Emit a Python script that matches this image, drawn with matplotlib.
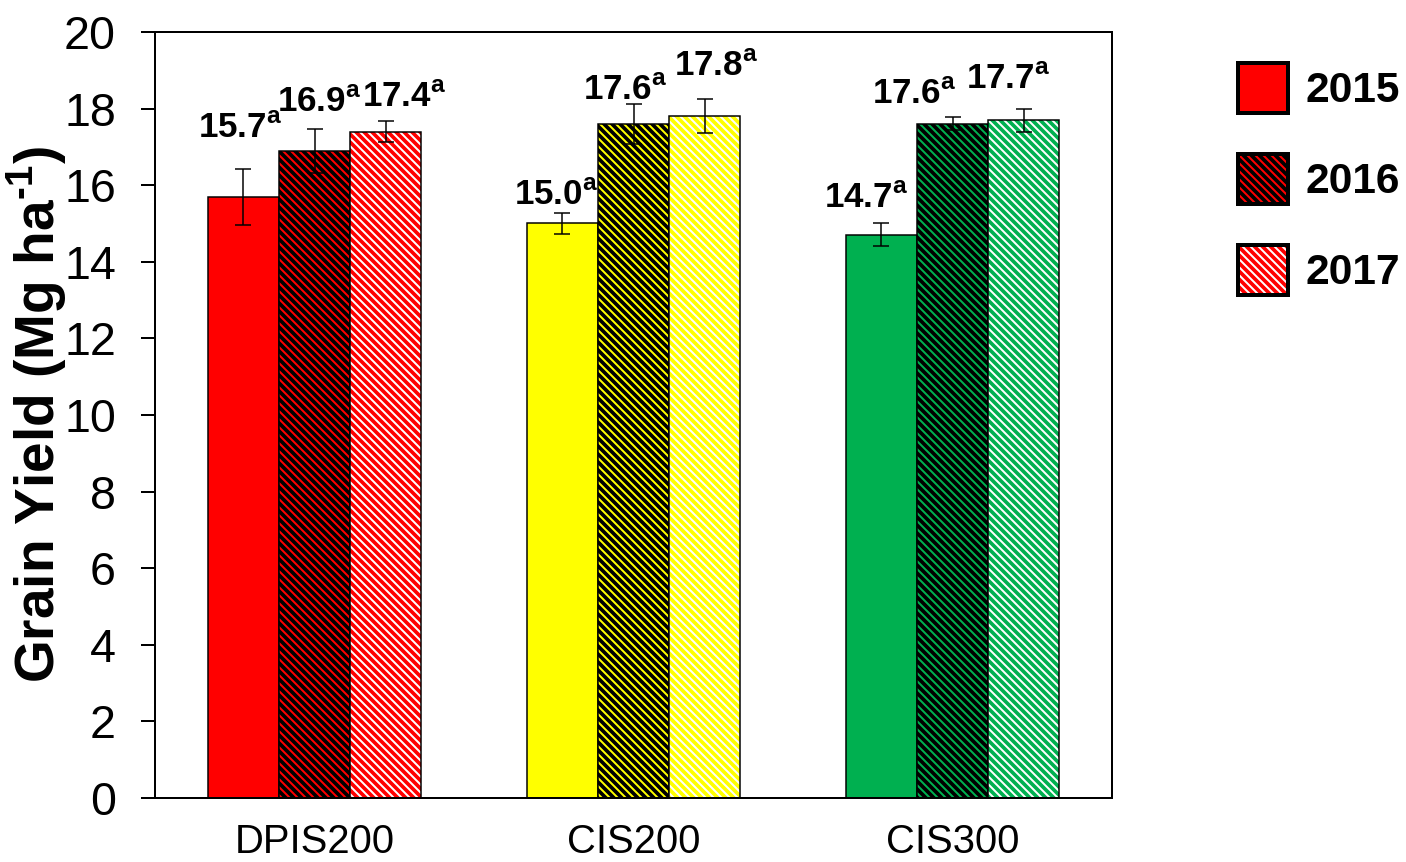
import matplotlib
matplotlib.use('Agg')
import matplotlib.pyplot as plt
from matplotlib.patches import Patch
from matplotlib.legend_handler import HandlerTuple
import numpy as np

# Fonts: Arial-like
plt.rcParams['font.family'] = 'Liberation Sans'
plt.rcParams['mathtext.fontset'] = 'custom'
plt.rcParams['mathtext.rm'] = 'Liberation Sans'
plt.rcParams['mathtext.bf'] = 'Liberation Sans:bold'
plt.rcParams['hatch.linewidth'] = 2.2

# Data
treatments = ['DPIS200', 'CIS200', 'CIS300']
years = ['2015', '2016', '2017']
yield_2015 = [15.7, 15.0, 14.7]
yield_2016 = [16.9, 17.6, 17.6]
yield_2017 = [17.4, 17.8, 17.7]
err_2015 = [0.73, 0.27, 0.30]
err_2016 = [0.57, 0.53, 0.17]
err_2017 = [0.28, 0.44, 0.30]
letters_2015 = ['a', 'a', 'a']
letters_2016 = ['a', 'a', 'a']
letters_2017 = ['a', 'a', 'a']

base_colors = ['#FF0000', '#FFFF00', '#00B050']

# label nudges in pixels (dx, dy above error bar top), one per bar
label_shift = [[(-3, 31), (-6, 8), (-15, 15)],
               [(5, 17), (-8, 4), (-38, 13)],
               [(19, 14), (12, 23), (-15, 20)]]

values = [yield_2015, yield_2016, yield_2017]
errors = [err_2015, err_2016, err_2017]
letters = [letters_2015, letters_2016, letters_2017]

fig = plt.figure(figsize=(1406 / 120, 862 / 120), dpi=120)
ax = fig.add_axes([155 / 1406, 64 / 862, 957 / 1406, 766 / 862])

x = np.arange(len(treatments))
w = 0.2226
hatch = '\\' * 5

for j in range(3):
    xs = x + (j - 1) * w
    for i in range(3):
        c = base_colors[i]
        if j == 0:
            ax.bar(xs[i], values[j][i], w, color=c, linewidth=0)
        elif j == 1:
            ax.bar(xs[i], values[j][i], w, facecolor=c, edgecolor='black',
                   hatch=hatch, linewidth=0)
        else:
            ax.bar(xs[i], values[j][i], w, facecolor='white', edgecolor=c,
                   hatch=hatch, linewidth=0)
    # outlines
    ax.bar(xs, values[j], w, fill=False, edgecolor='black', linewidth=0.9)
    ax.errorbar(xs, values[j], yerr=errors[j], fmt='none', ecolor='black',
                elinewidth=0.9, capsize=5, capthick=0.9)
    for i in range(3):
        dx, dy = label_shift[j][i]
        ax.annotate(f'{values[j][i]:.1f}' + r'$^{\mathbf{' + letters[j][i] + '}}$',
                    (xs[i], values[j][i] + errors[j][i]), xytext=(dx, dy),
                    textcoords='offset pixels', ha='center', va='baseline',
                    fontsize=21, fontweight='bold')

ax.set_xlim(-0.5, 2.5)
ax.set_ylim(0, 20)
ax.set_yticks(range(0, 21, 2))
ax.set_xticks(x)
ax.set_xticklabels(treatments)
ax.tick_params(axis='y', direction='out', length=8.4, width=1.2, pad=15, labelsize=28)
ax.tick_params(axis='x', length=0, pad=15, labelsize=24)
for s in ax.spines.values():
    s.set_linewidth(1.2)

ax.set_ylabel('Grain Yield (Mg ha' + r'$^{\mathbf{' + '\u2010' + r'1}}$' + ')',
              fontsize=33, fontweight='bold')
ax.yaxis.set_label_coords(-0.09, 0.5)

# legend
handles = []
for j in range(3):
    if j == 0:
        face = Patch(facecolor=base_colors[0], linewidth=0)
    elif j == 1:
        face = Patch(facecolor=base_colors[0], edgecolor='black', hatch=hatch, linewidth=0)
    else:
        face = Patch(facecolor='white', edgecolor=base_colors[0], hatch=hatch, linewidth=0)
    edge = Patch(fill=False, edgecolor='black', linewidth=2.4)
    handles.append((face, edge))

fig.legend(handles, years, loc='upper left', bbox_to_anchor=(1238 / 1406, 1 - 63 / 862),
           frameon=False, handler_map={tuple: HandlerTuple(ndivide=1)},
           handlelength=1.18, handleheight=1.433, labelspacing=0.965, handletextpad=0.4,
           borderpad=0, borderaxespad=0, prop={'size': 25.5, 'weight': 'bold'})

fig.savefig('out.png', dpi=120)
